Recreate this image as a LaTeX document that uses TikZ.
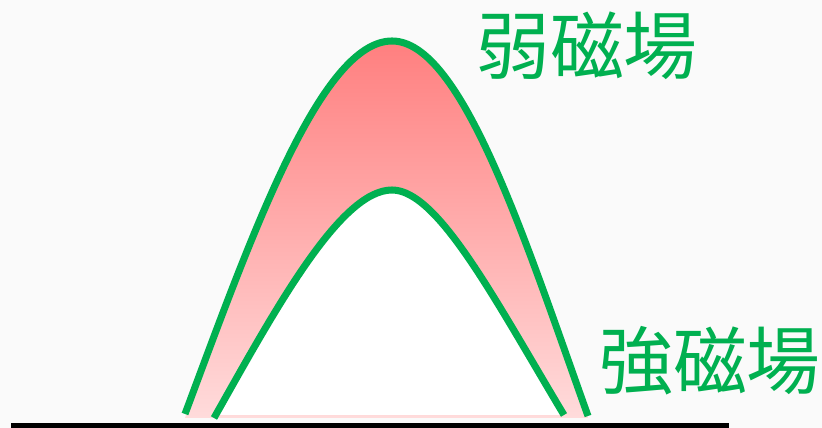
\documentclass[tikz,border=0pt]{standalone}
\usepackage{fontspec}
\usepackage{xcolor}
\newfontfamily\cjk{Noto Sans CJK JP}
\definecolor{Green}{HTML}{00B050}
\definecolor{Pink}{HTML}{FF7F7F}
\definecolor{Paper}{HTML}{FAFAFA}

\begin{document}
\begin{tikzpicture}[x=0.1mm, y=-0.1mm,
    arch/.style={draw=Green, line width=2pt, line cap=butt},
    label/.style={text=Green, inner sep=0pt, font=\cjk\fontsize{21pt}{21pt}\selectfont}]
        \clip (0,0) rectangle (822,428);
        \fill[Paper] (0,0) rectangle (822,428);
        % field band between the two arches
        \shade[top color=Pink, bottom color=Pink!28] (185,418) .. controls (250,240) and (320,41) .. (392,41)
              .. controls (462,41) and (525,240) .. (588,418) -- cycle;
        \fill[white] (214,415) .. controls (275,310) and (340,190) .. (392,190)
              .. controls (438,190) and (495,300) .. (564,415) -- cycle;
        \draw[arch] (185,414) .. controls (250,240) and (320,41) .. (392,41)
              .. controls (462,41) and (525,240) .. (588,416);
        \draw[arch] (214,418) .. controls (275,310) and (340,190) .. (392,190)
              .. controls (438,190) and (495,300) .. (564,415);
        % ground
        \fill[black] (11,423) rectangle (729,436);
        \node[label] (weak) at (587,46) {弱磁場};
        \node[label] (strong) at (710,361) {強磁場};
      \end{tikzpicture}
\end{document}
